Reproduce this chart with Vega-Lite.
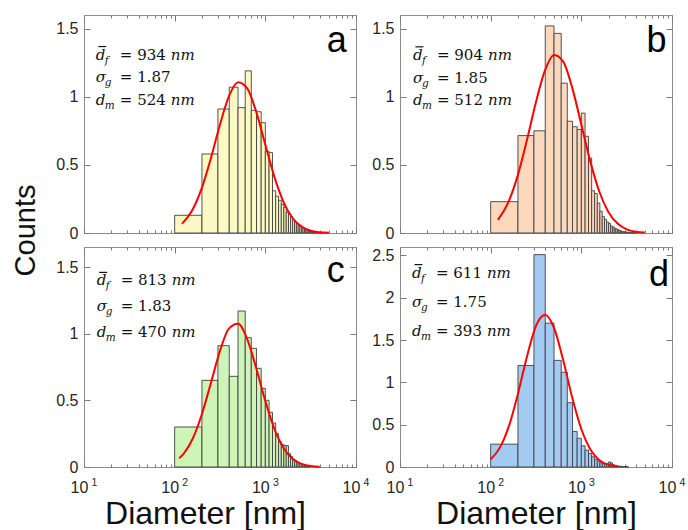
{
"$schema": "https://vega.github.io/schema/vega-lite/v6.json",
"padding": {"left": 10, "top": 14, "right": 5, "bottom": 2},
"bounds": "flush",
"spacing": {"row": 14, "column": 44},
"columns": 2,
"config": {
 "view": {"stroke": "#8c8c8c", "strokeWidth": 1},
 "axis": {"domain": false, "grid": false, "tickColor": "#7a7a7a", "tickWidth": 1, "labelFont": "Liberation Sans", "labelColor": "#262626", "titleFont": "Liberation Sans", "titleFontWeight": "normal", "titleColor": "#111111"}
},
"datasets": {
 "barsA": [{"lo":100,"hi":200,"v":0.13},{"lo":200,"hi":300,"v":0.58},{"lo":300,"hi":400,"v":0.91},{"lo":400,"hi":500,"v":1.07},{"lo":500,"hi":600,"v":0.92},{"lo":600,"hi":700,"v":1.19},{"lo":700,"hi":800,"v":0.9},{"lo":800,"hi":900,"v":0.89},{"lo":900,"hi":1000,"v":0.81},{"lo":1000,"hi":1100,"v":0.6},{"lo":1100,"hi":1200,"v":0.59},{"lo":1200,"hi":1300,"v":0.31},{"lo":1300,"hi":1400,"v":0.27},{"lo":1400,"hi":1500,"v":0.24},{"lo":1500,"hi":1600,"v":0.21},{"lo":1600,"hi":1700,"v":0.19},{"lo":1700,"hi":1800,"v":0.15},{"lo":1800,"hi":1900,"v":0.14},{"lo":1900,"hi":2000,"v":0.12},{"lo":2000,"hi":2100,"v":0.1},{"lo":2100,"hi":2200,"v":0.08},{"lo":2200,"hi":2300,"v":0.07},{"lo":2300,"hi":2400,"v":0.06},{"lo":2400,"hi":2500,"v":0.05},{"lo":2500,"hi":2600,"v":0.045},{"lo":2600,"hi":2700,"v":0.035},{"lo":2700,"hi":2800,"v":0.03},{"lo":2800,"hi":2900,"v":0.025},{"lo":2900,"hi":3000,"v":0.02},{"lo":3000,"hi":3100,"v":0.015},{"lo":3100,"hi":3200,"v":0.012},{"lo":3200,"hi":3300,"v":0.01},{"lo":3300,"hi":3400,"v":0.008},{"lo":3400,"hi":3500,"v":0.006},{"lo":3500,"hi":3600,"v":0.005},{"lo":3600,"hi":3700,"v":0.004},{"lo":3700,"hi":3800,"v":0.003},{"lo":3800,"hi":3900,"v":0.003},{"lo":3900,"hi":4000,"v":0.002},{"lo":4000,"hi":4100,"v":0.002},{"lo":4100,"hi":4200,"v":0.001},{"lo":4200,"hi":4300,"v":0.001}],
 "barsB": [{"lo":100,"hi":200,"v":0.23},{"lo":200,"hi":300,"v":0.715},{"lo":300,"hi":400,"v":0.75},{"lo":400,"hi":500,"v":1.52},{"lo":500,"hi":600,"v":1.465},{"lo":600,"hi":700,"v":1.1},{"lo":700,"hi":800,"v":0.82},{"lo":800,"hi":900,"v":0.78},{"lo":900,"hi":1000,"v":0.76},{"lo":1000,"hi":1100,"v":0.88},{"lo":1100,"hi":1200,"v":0.71},{"lo":1200,"hi":1300,"v":0.55},{"lo":1300,"hi":1400,"v":0.31},{"lo":1400,"hi":1500,"v":0.29},{"lo":1500,"hi":1600,"v":0.22},{"lo":1600,"hi":1700,"v":0.16},{"lo":1700,"hi":1800,"v":0.12},{"lo":1800,"hi":1900,"v":0.1},{"lo":1900,"hi":2000,"v":0.08},{"lo":2000,"hi":2100,"v":0.07},{"lo":2100,"hi":2200,"v":0.05},{"lo":2200,"hi":2300,"v":0.045},{"lo":2300,"hi":2400,"v":0.035},{"lo":2400,"hi":2500,"v":0.03},{"lo":2500,"hi":2600,"v":0.025},{"lo":2600,"hi":2700,"v":0.02},{"lo":2700,"hi":2800,"v":0.015},{"lo":2800,"hi":2900,"v":0.012},{"lo":2900,"hi":3000,"v":0.01},{"lo":3000,"hi":3100,"v":0.008},{"lo":3100,"hi":3200,"v":0.007},{"lo":3200,"hi":3300,"v":0.006},{"lo":3300,"hi":3400,"v":0.005},{"lo":3400,"hi":3500,"v":0.004},{"lo":3500,"hi":3600,"v":0.003},{"lo":3600,"hi":3700,"v":0.003},{"lo":3700,"hi":3800,"v":0.002},{"lo":3800,"hi":3900,"v":0.002},{"lo":3900,"hi":4000,"v":0.001},{"lo":4000,"hi":4100,"v":0.001}],
 "barsC": [{"lo":100,"hi":200,"v":0.3},{"lo":200,"hi":300,"v":0.65},{"lo":300,"hi":400,"v":0.91},{"lo":400,"hi":500,"v":0.68},{"lo":500,"hi":600,"v":1.17},{"lo":600,"hi":700,"v":0.97},{"lo":700,"hi":800,"v":0.89},{"lo":800,"hi":900,"v":0.74},{"lo":900,"hi":1000,"v":0.59},{"lo":1000,"hi":1100,"v":0.5},{"lo":1100,"hi":1200,"v":0.41},{"lo":1200,"hi":1300,"v":0.33},{"lo":1300,"hi":1400,"v":0.25},{"lo":1400,"hi":1500,"v":0.19},{"lo":1500,"hi":1600,"v":0.17},{"lo":1600,"hi":1700,"v":0.16},{"lo":1700,"hi":1800,"v":0.16},{"lo":1800,"hi":1900,"v":0.1},{"lo":1900,"hi":2000,"v":0.08},{"lo":2000,"hi":2100,"v":0.06},{"lo":2100,"hi":2200,"v":0.05},{"lo":2200,"hi":2300,"v":0.04},{"lo":2300,"hi":2400,"v":0.03},{"lo":2400,"hi":2500,"v":0.025},{"lo":2500,"hi":2600,"v":0.02},{"lo":2600,"hi":2700,"v":0.015},{"lo":2700,"hi":2800,"v":0.01},{"lo":2800,"hi":2900,"v":0.008},{"lo":2900,"hi":3000,"v":0.005},{"lo":3000,"hi":3100,"v":0.003}],
 "barsD": [{"lo":100,"hi":200,"v":0.27},{"lo":200,"hi":300,"v":1.2},{"lo":300,"hi":400,"v":2.51},{"lo":400,"hi":500,"v":1.7},{"lo":500,"hi":600,"v":1.26},{"lo":600,"hi":700,"v":1.12},{"lo":700,"hi":800,"v":0.76},{"lo":800,"hi":900,"v":0.42},{"lo":900,"hi":1000,"v":0.34},{"lo":1000,"hi":1100,"v":0.25},{"lo":1100,"hi":1200,"v":0.2},{"lo":1200,"hi":1300,"v":0.16},{"lo":1300,"hi":1400,"v":0.12},{"lo":1400,"hi":1500,"v":0.09},{"lo":1500,"hi":1600,"v":0.07},{"lo":1600,"hi":1700,"v":0.05},{"lo":1700,"hi":1800,"v":0.04},{"lo":1800,"hi":1900,"v":0.03},{"lo":1900,"hi":2000,"v":0.04},{"lo":2000,"hi":2100,"v":0.06},{"lo":2100,"hi":2200,"v":0.05},{"lo":2200,"hi":2300,"v":0.03},{"lo":2300,"hi":2400,"v":0.02},{"lo":2400,"hi":2500,"v":0.015},{"lo":2500,"hi":2600,"v":0.01},{"lo":2600,"hi":2700,"v":0.01},{"lo":2700,"hi":2800,"v":0.008},{"lo":2800,"hi":2900,"v":0.006},{"lo":2900,"hi":3000,"v":0.005},{"lo":3000,"hi":3100,"v":0.004},{"lo":3100,"hi":3200,"v":0.003},{"lo":3200,"hi":3300,"v":0.002}],
 "curveA": [{"d":120.2,"v":0.067},{"d":158.5,"v":0.174},{"d":199.5,"v":0.331},{"d":251.2,"v":0.55},{"d":316.2,"v":0.796},{"d":398.1,"v":1.006},{"d":501.2,"v":1.107},{"d":631,"v":1.062},{"d":794.3,"v":0.889},{"d":1000,"v":0.648},{"d":1258.9,"v":0.412},{"d":1584.9,"v":0.229},{"d":1995.3,"v":0.11},{"d":2511.9,"v":0.047},{"d":3162.3,"v":0.017},{"d":3981.1,"v":0.0055},{"d":5011.9,"v":0.0015}],
 "curveB": [{"d":120.2,"v":0.096},{"d":158.5,"v":0.234},{"d":199.5,"v":0.425},{"d":251.2,"v":0.682},{"d":316.2,"v":0.962},{"d":398.1,"v":1.195},{"d":501.2,"v":1.307},{"d":631,"v":1.258},{"d":794.3,"v":1.065},{"d":1000,"v":0.795},{"d":1258.9,"v":0.522},{"d":1584.9,"v":0.301},{"d":1995.3,"v":0.153},{"d":2511.9,"v":0.069},{"d":3162.3,"v":0.027},{"d":3981.1,"v":0.0094},{"d":5011.9,"v":0.0029}],
 "curveC": [{"d":112.2,"v":0.065},{"d":125.9,"v":0.101},{"d":158.5,"v":0.214},{"d":199.5,"v":0.396},{"d":251.2,"v":0.631},{"d":316.2,"v":0.871},{"d":398.1,"v":1.04},{"d":501.2,"v":1.074},{"d":631,"v":0.959},{"d":794.3,"v":0.741},{"d":1000,"v":0.495},{"d":1258.9,"v":0.286},{"d":1584.9,"v":0.143},{"d":1995.3,"v":0.062},{"d":2511.9,"v":0.023},{"d":3162.3,"v":0.0075},{"d":3981.1,"v":0.002}],
 "curveD": [{"d":100,"v":0.09},{"d":125.9,"v":0.226},{"d":158.5,"v":0.48},{"d":199.5,"v":0.861},{"d":251.2,"v":1.304},{"d":316.2,"v":1.668},{"d":398.1,"v":1.8},{"d":501.2,"v":1.64},{"d":631,"v":1.261},{"d":794.3,"v":0.819},{"d":1000,"v":0.449},{"d":1258.9,"v":0.208},{"d":1584.9,"v":0.081},{"d":1995.3,"v":0.027},{"d":2511.9,"v":0.0075}]
},
"concat": [
 {
  "width": 272, "height": 218,
  "resolve": {"axis": {"x": "independent", "y": "independent"}},
  "layer": [
   {"data": {"name": "barsA"},
    "mark": {"type": "rect", "fill": "#FDF9C4", "stroke": "#404040", "strokeWidth": 0.9},
    "encoding": {
     "x": {"field": "lo", "type": "quantitative", "scale": {"type": "log", "domain": [10, 10000], "nice": false}, "axis": {"orient": "bottom", "values": [10,20,30,40,50,60,70,80,90,100,200,300,400,500,600,700,800,900,1000,2000,3000,4000,5000,6000,7000,8000,9000,10000], "tickSize": {"condition": {"test": "indexof([10,100,1000,10000], datum.value) >= 0", "value": -6}, "value": -3}, "labels": false, "title": null}},
     "x2": {"field": "hi"},
     "y": {"field": "v", "type": "quantitative", "scale": {"domain": [0, 1.6], "nice": false}, "axis": {"orient": "left", "values": [0, 0.5, 1, 1.5], "format": "~g", "tickSize": -6, "labelPadding": 12, "labelFontSize": 16, "title": "Counts", "titleFontSize": 29, "titleAngle": -90, "titleX": -59, "titleY": 215, "titleAlign": "center", "titleBaseline": "middle"}},
     "y2": {"datum": 0}
    }},
   {"data": {"name": "curveA"},
    "mark": {"type": "line", "color": "#FF0000", "strokeWidth": 2, "interpolate": "monotone"},
    "encoding": {
     "x": {"field": "d", "type": "quantitative", "axis": {"orient": "top", "values": [10,20,30,40,50,60,70,80,90,100,200,300,400,500,600,700,800,900,1000,2000,3000,4000,5000,6000,7000,8000,9000,10000], "tickSize": {"condition": {"test": "indexof([10,100,1000,10000], datum.value) >= 0", "value": -6}, "value": -3}, "labels": false, "title": null}},
     "y": {"field": "v", "type": "quantitative", "axis": {"orient": "right", "values": [0, 0.5, 1, 1.5], "tickSize": -6, "labels": false, "title": null}}
    }},
   {"data": {"values": [{}]}, "mark": {"type": "text", "text": ["d", "σ", "d"], "font": "DejaVu Serif", "fontStyle": "italic", "fontSize": 15, "align": "left", "baseline": "alphabetic", "lineHeight": 22.7, "color": "#111111"},
    "encoding": {"x": {"datum": 13.5, "type": "quantitative", "axis": null}, "y": {"datum": 1.273, "type": "quantitative", "axis": null}}},
   {"data": {"values": [{}]}, "mark": {"type": "rule", "color": "#111111", "strokeWidth": 1.2, "yOffset": -13},
    "encoding": {"x": {"datum": 14.4, "type": "quantitative", "axis": null}, "x2": {"datum": 17.6}, "y": {"datum": 1.273, "type": "quantitative", "axis": null}}},
   {"data": {"values": [{}]}, "mark": {"type": "text", "text": ["f", "g", "m"], "font": "DejaVu Serif", "fontStyle": "italic", "fontSize": 10.5, "align": "left", "baseline": "alphabetic", "lineHeight": 22.7, "dx": 9, "dy": 4, "color": "#111111"},
    "encoding": {"x": {"datum": 13.5, "type": "quantitative", "axis": null}, "y": {"datum": 1.273, "type": "quantitative", "axis": null}}},
   {"data": {"values": [{}]}, "mark": {"type": "text", "text": ["= 934", "= 1.87", "= 524"], "font": "DejaVu Serif", "fontStyle": "normal", "fontSize": 15, "align": "left", "baseline": "alphabetic", "lineHeight": 22.7, "dx": 24, "color": "#111111"},
    "encoding": {"x": {"datum": 13.5, "type": "quantitative", "axis": null}, "y": {"datum": 1.273, "type": "quantitative", "axis": null}}},
   {"data": {"values": [{}]}, "mark": {"type": "text", "text": "nm", "font": "DejaVu Serif", "fontStyle": "italic", "fontSize": 15, "align": "left", "baseline": "alphabetic", "dx": 75, "color": "#111111"},
    "encoding": {"x": {"datum": 13.5, "type": "quantitative", "axis": null}, "y": {"datum": 1.273, "type": "quantitative", "axis": null}}},
   {"data": {"values": [{}]}, "mark": {"type": "text", "text": "nm", "font": "DejaVu Serif", "fontStyle": "italic", "fontSize": 15, "align": "left", "baseline": "alphabetic", "dx": 75, "dy": 45.4, "color": "#111111"},
    "encoding": {"x": {"datum": 13.5, "type": "quantitative", "axis": null}, "y": {"datum": 1.273, "type": "quantitative", "axis": null}}},
   {"data": {"values": [{}]}, "mark": {"type": "text", "text": "a", "font": "Liberation Sans", "fontSize": 36, "align": "right", "baseline": "alphabetic", "color": "#000000"},
    "encoding": {"x": {"datum": 7900, "type": "quantitative", "axis": null}, "y": {"datum": 1.33, "type": "quantitative", "axis": null}}}
  ]
 },
 {
  "width": 272, "height": 218,
  "resolve": {"axis": {"x": "independent", "y": "independent"}},
  "layer": [
   {"data": {"name": "barsB"},
    "mark": {"type": "rect", "fill": "#FCD9BC", "stroke": "#404040", "strokeWidth": 0.9},
    "encoding": {
     "x": {"field": "lo", "type": "quantitative", "scale": {"type": "log", "domain": [10, 10000], "nice": false}, "axis": {"orient": "bottom", "values": [10,20,30,40,50,60,70,80,90,100,200,300,400,500,600,700,800,900,1000,2000,3000,4000,5000,6000,7000,8000,9000,10000], "tickSize": {"condition": {"test": "indexof([10,100,1000,10000], datum.value) >= 0", "value": -6}, "value": -3}, "labels": false, "title": null}},
     "x2": {"field": "hi"},
     "y": {"field": "v", "type": "quantitative", "scale": {"domain": [0, 1.6], "nice": false}, "axis": {"orient": "left", "values": [0, 0.5, 1, 1.5], "format": "~g", "tickSize": -6, "labelPadding": 12, "labelFontSize": 16, "title": null}},
     "y2": {"datum": 0}
    }},
   {"data": {"name": "curveB"},
    "mark": {"type": "line", "color": "#FF0000", "strokeWidth": 2, "interpolate": "monotone"},
    "encoding": {
     "x": {"field": "d", "type": "quantitative", "axis": {"orient": "top", "values": [10,20,30,40,50,60,70,80,90,100,200,300,400,500,600,700,800,900,1000,2000,3000,4000,5000,6000,7000,8000,9000,10000], "tickSize": {"condition": {"test": "indexof([10,100,1000,10000], datum.value) >= 0", "value": -6}, "value": -3}, "labels": false, "title": null}},
     "y": {"field": "v", "type": "quantitative", "axis": {"orient": "right", "values": [0, 0.5, 1, 1.5], "tickSize": -6, "labels": false, "title": null}}
    }},
   {"data": {"values": [{}]}, "mark": {"type": "text", "text": ["d", "σ", "d"], "font": "DejaVu Serif", "fontStyle": "italic", "fontSize": 15, "align": "left", "baseline": "alphabetic", "lineHeight": 22.7, "color": "#111111"},
    "encoding": {"x": {"datum": 13.9, "type": "quantitative", "axis": null}, "y": {"datum": 1.271, "type": "quantitative", "axis": null}}},
   {"data": {"values": [{}]}, "mark": {"type": "rule", "color": "#111111", "strokeWidth": 1.2, "yOffset": -13},
    "encoding": {"x": {"datum": 14.8, "type": "quantitative", "axis": null}, "x2": {"datum": 18.1}, "y": {"datum": 1.271, "type": "quantitative", "axis": null}}},
   {"data": {"values": [{}]}, "mark": {"type": "text", "text": ["f", "g", "m"], "font": "DejaVu Serif", "fontStyle": "italic", "fontSize": 10.5, "align": "left", "baseline": "alphabetic", "lineHeight": 22.7, "dx": 9, "dy": 4, "color": "#111111"},
    "encoding": {"x": {"datum": 13.9, "type": "quantitative", "axis": null}, "y": {"datum": 1.271, "type": "quantitative", "axis": null}}},
   {"data": {"values": [{}]}, "mark": {"type": "text", "text": ["= 904", "= 1.85", "= 512"], "font": "DejaVu Serif", "fontStyle": "normal", "fontSize": 15, "align": "left", "baseline": "alphabetic", "lineHeight": 22.7, "dx": 24, "color": "#111111"},
    "encoding": {"x": {"datum": 13.9, "type": "quantitative", "axis": null}, "y": {"datum": 1.271, "type": "quantitative", "axis": null}}},
   {"data": {"values": [{}]}, "mark": {"type": "text", "text": "nm", "font": "DejaVu Serif", "fontStyle": "italic", "fontSize": 15, "align": "left", "baseline": "alphabetic", "dx": 75, "color": "#111111"},
    "encoding": {"x": {"datum": 13.9, "type": "quantitative", "axis": null}, "y": {"datum": 1.271, "type": "quantitative", "axis": null}}},
   {"data": {"values": [{}]}, "mark": {"type": "text", "text": "nm", "font": "DejaVu Serif", "fontStyle": "italic", "fontSize": 15, "align": "left", "baseline": "alphabetic", "dx": 75, "dy": 45.4, "color": "#111111"},
    "encoding": {"x": {"datum": 13.9, "type": "quantitative", "axis": null}, "y": {"datum": 1.271, "type": "quantitative", "axis": null}}},
   {"data": {"values": [{}]}, "mark": {"type": "text", "text": "b", "font": "Liberation Sans", "fontSize": 36, "align": "right", "baseline": "alphabetic", "color": "#000000"},
    "encoding": {"x": {"datum": 8700, "type": "quantitative", "axis": null}, "y": {"datum": 1.33, "type": "quantitative", "axis": null}}}
  ]
 },
 {
  "width": 272, "height": 220,
  "resolve": {"axis": {"x": "independent", "y": "independent"}},
  "layer": [
   {"data": {"name": "barsC"},
    "mark": {"type": "rect", "fill": "#CDF5B8", "stroke": "#404040", "strokeWidth": 0.9},
    "encoding": {
     "x": {"field": "lo", "type": "quantitative", "scale": {"type": "log", "domain": [10, 10000], "nice": false}, "axis": {"orient": "bottom", "values": [10,20,30,40,50,60,70,80,90,100,200,300,400,500,600,700,800,900,1000,2000,3000,4000,5000,6000,7000,8000,9000,10000], "tickSize": {"condition": {"test": "indexof([10,100,1000,10000], datum.value) >= 0", "value": -6}, "value": -3}, "labelExpr": "indexof([10,100,1000,10000], datum.value) >= 0 ? '10' : ''", "labelFontSize": 16, "labelPadding": 18, "labelOffset": -5, "labelFlush": false, "labelOverlap": false, "title": "Diameter [nm]", "titleFontSize": 32, "titlePadding": 0, "titleX": 121}},
     "x2": {"field": "hi"},
     "y": {"field": "v", "type": "quantitative", "scale": {"domain": [0, 1.65], "nice": false}, "axis": {"orient": "left", "values": [0, 0.5, 1, 1.5], "format": "~g", "tickSize": -6, "labelPadding": 12, "labelFontSize": 16, "title": null}},
     "y2": {"datum": 0}
    }},
   {"data": {"name": "curveC"},
    "mark": {"type": "line", "color": "#FF0000", "strokeWidth": 2, "interpolate": "monotone"},
    "encoding": {
     "x": {"field": "d", "type": "quantitative", "axis": {"orient": "top", "values": [10,20,30,40,50,60,70,80,90,100,200,300,400,500,600,700,800,900,1000,2000,3000,4000,5000,6000,7000,8000,9000,10000], "tickSize": {"condition": {"test": "indexof([10,100,1000,10000], datum.value) >= 0", "value": -6}, "value": -3}, "labels": false, "title": null}},
     "y": {"field": "v", "type": "quantitative", "axis": {"orient": "right", "values": [0, 0.5, 1, 1.5], "tickSize": -6, "labels": false, "title": null}}
    }},
   {"data": {"values": [{}]}, "mark": {"type": "text", "text": ["d", "σ", "d"], "font": "DejaVu Serif", "fontStyle": "italic", "fontSize": 15, "align": "left", "baseline": "alphabetic", "lineHeight": 25.8, "color": "#111111"},
    "encoding": {"x": {"datum": 13.8, "type": "quantitative", "axis": {"orient": "bottom", "values": [10, 100, 1000, 10000], "ticks": false, "labelExpr": "format(round(log(datum.value) / LN10), 'd')", "labelFontSize": 10.5, "labelPadding": 10, "labelOffset": 10, "labelFlush": false, "labelOverlap": false, "title": null}}, "y": {"datum": 1.362, "type": "quantitative", "axis": null}}},
   {"data": {"values": [{}]}, "mark": {"type": "rule", "color": "#111111", "strokeWidth": 1.2, "yOffset": -13},
    "encoding": {"x": {"datum": 14.7, "type": "quantitative", "axis": null}, "x2": {"datum": 18.0}, "y": {"datum": 1.362, "type": "quantitative", "axis": null}}},
   {"data": {"values": [{}]}, "mark": {"type": "text", "text": ["f", "g", "m"], "font": "DejaVu Serif", "fontStyle": "italic", "fontSize": 10.5, "align": "left", "baseline": "alphabetic", "lineHeight": 25.8, "dx": 9, "dy": 4, "color": "#111111"},
    "encoding": {"x": {"datum": 13.8, "type": "quantitative", "axis": null}, "y": {"datum": 1.362, "type": "quantitative", "axis": null}}},
   {"data": {"values": [{}]}, "mark": {"type": "text", "text": ["= 813", "= 1.83", "= 470"], "font": "DejaVu Serif", "fontStyle": "normal", "fontSize": 15, "align": "left", "baseline": "alphabetic", "lineHeight": 25.8, "dx": 24, "color": "#111111"},
    "encoding": {"x": {"datum": 13.8, "type": "quantitative", "axis": null}, "y": {"datum": 1.362, "type": "quantitative", "axis": null}}},
   {"data": {"values": [{}]}, "mark": {"type": "text", "text": "nm", "font": "DejaVu Serif", "fontStyle": "italic", "fontSize": 15, "align": "left", "baseline": "alphabetic", "dx": 75, "color": "#111111"},
    "encoding": {"x": {"datum": 13.8, "type": "quantitative", "axis": null}, "y": {"datum": 1.362, "type": "quantitative", "axis": null}}},
   {"data": {"values": [{}]}, "mark": {"type": "text", "text": "nm", "font": "DejaVu Serif", "fontStyle": "italic", "fontSize": 15, "align": "left", "baseline": "alphabetic", "dx": 75, "dy": 51.6, "color": "#111111"},
    "encoding": {"x": {"datum": 13.8, "type": "quantitative", "axis": null}, "y": {"datum": 1.362, "type": "quantitative", "axis": null}}},
   {"data": {"values": [{}]}, "mark": {"type": "text", "text": "c", "font": "Liberation Sans", "fontSize": 36, "align": "right", "baseline": "alphabetic", "color": "#000000"},
    "encoding": {"x": {"datum": 7530, "type": "quantitative", "axis": null}, "y": {"datum": 1.387, "type": "quantitative", "axis": null}}}
  ]
 },
 {
  "width": 272, "height": 220,
  "resolve": {"axis": {"x": "independent", "y": "independent"}},
  "layer": [
   {"data": {"name": "barsD"},
    "mark": {"type": "rect", "fill": "#A3CBF2", "stroke": "#404040", "strokeWidth": 0.9},
    "encoding": {
     "x": {"field": "lo", "type": "quantitative", "scale": {"type": "log", "domain": [10, 10000], "nice": false}, "axis": {"orient": "bottom", "values": [10,20,30,40,50,60,70,80,90,100,200,300,400,500,600,700,800,900,1000,2000,3000,4000,5000,6000,7000,8000,9000,10000], "tickSize": {"condition": {"test": "indexof([10,100,1000,10000], datum.value) >= 0", "value": -6}, "value": -3}, "labelExpr": "indexof([10,100,1000,10000], datum.value) >= 0 ? '10' : ''", "labelFontSize": 16, "labelPadding": 18, "labelOffset": -5, "labelFlush": false, "labelOverlap": false, "title": "Diameter [nm]", "titleFontSize": 32, "titlePadding": 0}},
     "x2": {"field": "hi"},
     "y": {"field": "v", "type": "quantitative", "scale": {"domain": [0, 2.6], "nice": false}, "axis": {"orient": "left", "values": [0, 0.5, 1, 1.5, 2, 2.5], "format": "~g", "tickSize": -6, "labelPadding": 12, "labelFontSize": 16, "title": null}},
     "y2": {"datum": 0}
    }},
   {"data": {"name": "curveD"},
    "mark": {"type": "line", "color": "#FF0000", "strokeWidth": 2, "interpolate": "monotone"},
    "encoding": {
     "x": {"field": "d", "type": "quantitative", "axis": {"orient": "top", "values": [10,20,30,40,50,60,70,80,90,100,200,300,400,500,600,700,800,900,1000,2000,3000,4000,5000,6000,7000,8000,9000,10000], "tickSize": {"condition": {"test": "indexof([10,100,1000,10000], datum.value) >= 0", "value": -6}, "value": -3}, "labels": false, "title": null}},
     "y": {"field": "v", "type": "quantitative", "axis": {"orient": "right", "values": [0, 0.5, 1, 1.5, 2, 2.5], "tickSize": -6, "labels": false, "title": null}}
    }},
   {"data": {"values": [{}]}, "mark": {"type": "text", "text": ["d", "σ", "d"], "font": "DejaVu Serif", "fontStyle": "italic", "fontSize": 15, "align": "left", "baseline": "alphabetic", "lineHeight": 29.3, "color": "#111111"},
    "encoding": {"x": {"datum": 13.55, "type": "quantitative", "axis": {"orient": "bottom", "values": [10, 100, 1000, 10000], "ticks": false, "labelExpr": "format(round(log(datum.value) / LN10), 'd')", "labelFontSize": 10.5, "labelPadding": 10, "labelOffset": 10, "labelFlush": false, "labelOverlap": false, "title": null}}, "y": {"datum": 2.238, "type": "quantitative", "axis": null}}},
   {"data": {"values": [{}]}, "mark": {"type": "rule", "color": "#111111", "strokeWidth": 1.2, "yOffset": -13},
    "encoding": {"x": {"datum": 14.45, "type": "quantitative", "axis": null}, "x2": {"datum": 17.65}, "y": {"datum": 2.238, "type": "quantitative", "axis": null}}},
   {"data": {"values": [{}]}, "mark": {"type": "text", "text": ["f", "g", "m"], "font": "DejaVu Serif", "fontStyle": "italic", "fontSize": 10.5, "align": "left", "baseline": "alphabetic", "lineHeight": 29.3, "dx": 9, "dy": 4, "color": "#111111"},
    "encoding": {"x": {"datum": 13.55, "type": "quantitative", "axis": null}, "y": {"datum": 2.238, "type": "quantitative", "axis": null}}},
   {"data": {"values": [{}]}, "mark": {"type": "text", "text": ["= 611", "= 1.75", "= 393"], "font": "DejaVu Serif", "fontStyle": "normal", "fontSize": 15, "align": "left", "baseline": "alphabetic", "lineHeight": 29.3, "dx": 24, "color": "#111111"},
    "encoding": {"x": {"datum": 13.55, "type": "quantitative", "axis": null}, "y": {"datum": 2.238, "type": "quantitative", "axis": null}}},
   {"data": {"values": [{}]}, "mark": {"type": "text", "text": "nm", "font": "DejaVu Serif", "fontStyle": "italic", "fontSize": 15, "align": "left", "baseline": "alphabetic", "dx": 75, "color": "#111111"},
    "encoding": {"x": {"datum": 13.55, "type": "quantitative", "axis": null}, "y": {"datum": 2.238, "type": "quantitative", "axis": null}}},
   {"data": {"values": [{}]}, "mark": {"type": "text", "text": "nm", "font": "DejaVu Serif", "fontStyle": "italic", "fontSize": 15, "align": "left", "baseline": "alphabetic", "dx": 75, "dy": 58.6, "color": "#111111"},
    "encoding": {"x": {"datum": 13.55, "type": "quantitative", "axis": null}, "y": {"datum": 2.238, "type": "quantitative", "axis": null}}},
   {"data": {"values": [{}]}, "mark": {"type": "text", "text": "d", "font": "Liberation Sans", "fontSize": 36, "align": "right", "baseline": "alphabetic", "color": "#000000"},
    "encoding": {"x": {"datum": 9300, "type": "quantitative", "axis": null}, "y": {"datum": 2.135, "type": "quantitative", "axis": null}}}
  ]
 }
]
}
